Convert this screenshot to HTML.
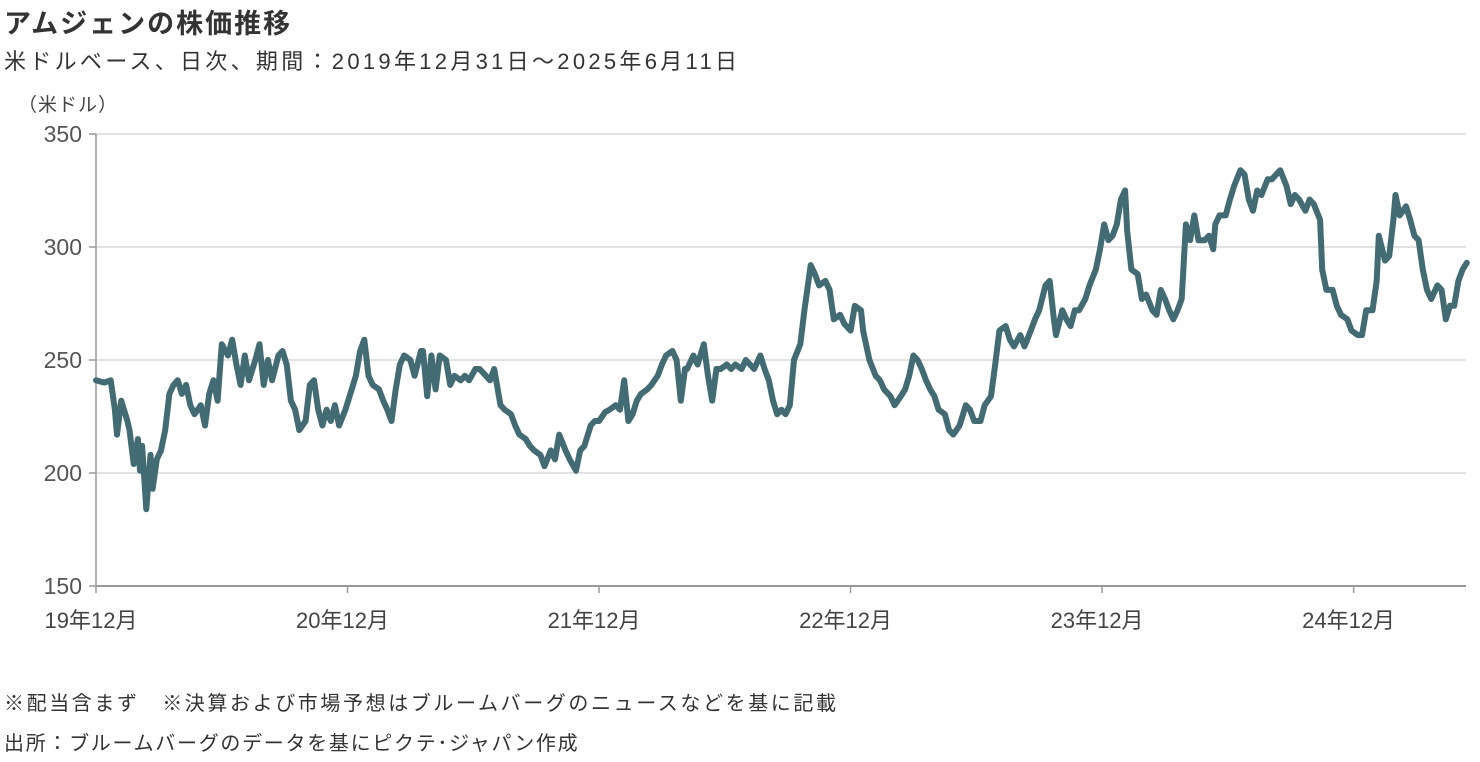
<!DOCTYPE html>
<html><head><meta charset="utf-8">
<style>
body{margin:0;background:#fff;width:1480px;height:762px;overflow:hidden;font-family:"Liberation Sans","Noto Sans CJK JP",sans-serif;color:#333}
.t{position:absolute;white-space:nowrap}
</style></head><body>
<div class="t" style="left:4px;top:2px;font-size:27px;font-weight:bold;color:#333;letter-spacing:2px">アムジェンの株価推移</div>
<div class="t" style="left:4px;top:44px;font-size:22px;color:#333;letter-spacing:3.3px">米ドルベース、日次、期間：2019年12月31日～2025年6月11日</div>
<div class="t" style="left:18px;top:90px;font-size:19px;color:#444;letter-spacing:1px">（米ドル）</div>
<svg id="chart" width="1480" height="762" style="position:absolute;left:0;top:0"></svg>
<div class="t" style="left:4px;top:687px;font-size:20px;color:#333;letter-spacing:2.6px">※配当含まず　※決算および市場予想はブルームバーグのニュースなどを基に記載</div>
<div class="t" style="left:4px;top:727px;font-size:20px;color:#333;letter-spacing:1.7px">出所：ブルームバーグのデータを基にピクテ･ジャパン作成</div>
<script>
const months=[0.0,0.4,0.7,0.9,1.0,1.2,1.5,1.6,1.8,2.0,2.1,2.2,2.4,2.6,2.7,2.9,3.1,3.3,3.5,3.7,3.9,4.1,4.3,4.5,4.7,5.0,5.2,5.4,5.6,5.8,6.0,6.3,6.5,6.7,6.9,7.1,7.3,7.6,7.8,8.0,8.2,8.4,8.7,8.9,9.1,9.3,9.5,9.7,10.0,10.2,10.4,10.6,10.8,11.0,11.2,11.4,11.6,11.9,12.1,12.4,12.6,12.8,13.0,13.2,13.5,13.7,13.9,14.1,14.3,14.5,14.7,15.0,15.2,15.5,15.6,15.8,16.0,16.2,16.4,16.7,16.9,17.1,17.4,17.6,17.8,18.1,18.3,18.6,18.8,19.0,19.3,19.5,19.8,20.0,20.2,20.5,20.7,20.9,21.2,21.4,21.7,21.9,22.1,22.4,22.6,22.9,23.1,23.3,23.6,23.8,24.0,24.3,24.5,24.8,25.0,25.2,25.4,25.6,25.8,26.0,26.3,26.5,26.8,27.0,27.2,27.5,27.7,27.9,28.1,28.2,28.5,28.7,29.0,29.2,29.4,29.6,29.8,30.1,30.3,30.5,30.8,31.0,31.2,31.4,31.7,31.9,32.1,32.3,32.5,32.7,32.9,33.1,33.3,33.6,33.8,34.1,34.3,34.5,34.8,35.0,35.2,35.5,35.7,36.0,36.2,36.5,36.6,36.9,37.2,37.4,37.6,37.9,38.1,38.4,38.6,38.8,39.0,39.2,39.4,39.6,39.8,40.0,40.2,40.5,40.7,40.9,41.2,41.5,41.7,41.9,42.2,42.4,42.7,42.9,43.1,43.4,43.6,43.8,44.1,44.3,44.6,44.8,45.0,45.3,45.5,45.7,45.8,46.1,46.3,46.5,46.7,46.9,47.2,47.4,47.7,47.9,48.1,48.3,48.5,48.7,48.9,49.1,49.2,49.4,49.7,49.9,50.1,50.4,50.6,50.8,51.0,51.2,51.4,51.6,51.8,52.0,52.2,52.4,52.6,52.9,53.1,53.3,53.4,53.6,53.9,54.1,54.3,54.6,54.8,55.0,55.2,55.4,55.6,55.9,56.1,56.3,56.5,56.8,57.0,57.2,57.4,57.7,57.9,58.1,58.4,58.5,58.7,59.0,59.2,59.4,59.7,59.9,60.2,60.4,60.6,60.9,61.1,61.2,61.5,61.7,61.9,62.0,62.2,62.5,62.7,62.9,63.1,63.3,63.5,63.7,64.0,64.2,64.4,64.6,64.8,65.0,65.2,65.4];
const prices=[241,240,241,228,217,232,223,219,204,215,201,212,184,208,193,206,210,219,235,239,241,235,239,230,226,230,221,235,241,232,257,252,259,248,239,252,241,250,257,239,250,241,252,254,248,232,228,219,223,239,241,228,221,228,223,230,221,228,234,243,254,259,243,239,237,232,228,223,237,248,252,250,243,254,254,234,252,237,252,250,239,243,241,243,241,246,246,243,241,246,230,228,226,221,217,215,212,210,208,203,210,206,217,210,206,201,210,212,221,223,223,227,228,230,228,241,223,226,232,235,237,239,243,248,252,254,250,232,246,246,252,248,257,243,232,246,246,248,246,248,246,250,248,246,252,246,241,232,226,228,226,230,250,257,272,292,288,283,285,281,268,270,266,263,274,272,263,250,243,241,237,234,230,234,237,243,252,250,246,241,237,234,228,226,219,217,221,230,228,223,223,230,234,248,263,265,259,256,261,256,263,268,272,283,285,268,261,272,268,265,272,272,277,283,290,299,310,303,305,310,321,325,307,290,288,277,279,272,270,281,277,272,268,272,277,310,303,314,303,303,305,299,310,314,314,321,327,334,332,321,316,325,323,330,330,332,334,327,319,323,321,316,321,319,312,290,281,281,274,270,268,263,261,261,272,272,285,305,294,296,312,323,314,318,312,305,303,290,281,277,283,281,268,274,274,285,290,293];
const yTicks=[150,200,250,300,350];
const xTickMonths=[0,12,24,36,48,60];
const xTickLabels=["19年12月","20年12月","21年12月","22年12月","23年12月","24年12月"];
const NS="http://www.w3.org/2000/svg";
const svg=document.getElementById('chart');
const L=96,R=1466,T=134,B=586;
const xs=m=>L+m*20.96;
const ys=v=>B-(v-150)/200*(B-T);
function mk(t,a){const e=document.createElementNS(NS,t);for(const k in a)e.setAttribute(k,a[k]);svg.appendChild(e);return e;}
yTicks.forEach(v=>{
  if(v>150){const g=mk('line',{x1:L,x2:R,y1:ys(v),y2:ys(v),stroke:'#d9d9d9','stroke-width':1.5});
  
  }
  const tk=mk('line',{x1:L-7,x2:L,y1:ys(v),y2:ys(v),stroke:'#999','stroke-width':1.5});
  
  
  const t=mk('text',{x:L-14,y:ys(v)+8,'text-anchor':'end','font-size':23,fill:'#555','font-family':'Liberation Sans, sans-serif'});
  t.textContent=v;
  
  
});
const ya=mk('line',{x1:L,x2:L,y1:T,y2:B,stroke:'#999','stroke-width':1.5});


const xa=mk('line',{x1:L,x2:R,y1:B,y2:B,stroke:'#999','stroke-width':2});


xTickMonths.forEach((m,i)=>{
  const tk=mk('line',{x1:xs(m),x2:xs(m),y1:B,y2:B+7,stroke:'#999','stroke-width':1.5});
  
  
  const t=mk('text',{x:xs(m)-5,y:B+42,'text-anchor':'middle','font-size':22,fill:'#444','font-family':'Liberation Sans, Noto Sans CJK JP, sans-serif'});
  t.textContent=xTickLabels[i];
  
  
});
const d=months.map((m,i)=>(i?'L':'M')+xs(m).toFixed(1)+' '+ys(prices[i]).toFixed(1)).join(' ');
const p=mk('path',{d:d,fill:'none',stroke:'#426b73','stroke-width':6,'stroke-linejoin':'round','stroke-linecap':'round'});


</script>
</body></html>
